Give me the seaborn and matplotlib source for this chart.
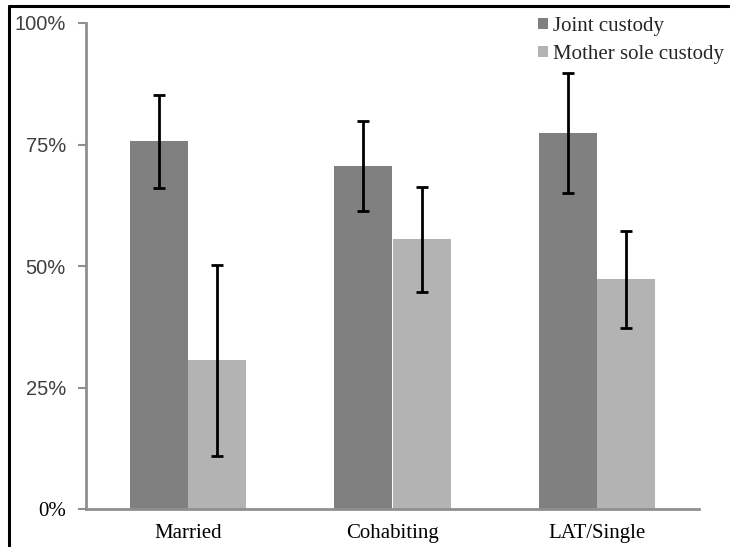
import matplotlib
matplotlib.use('Agg')
import numpy as np
import pandas as pd
import matplotlib.pyplot as plt
import seaborn as sns
from matplotlib.patches import Patch
from matplotlib.lines import Line2D

## data
categories = ['Married', 'Cohabiting', 'LAT/Single']
series = ['Joint custody', 'Mother sole custody']
joint = [75.8, 70.5, 77.4]
joint_lo = [66.0, 61.4, 65.0]
joint_hi = [85.2, 79.8, 89.8]
mother = [30.7, 55.5, 47.3]
mother_lo = [10.9, 44.7, 37.3]
mother_hi = [50.2, 66.3, 57.2]
yticks = [0, 25, 50, 75, 100]
ytick_labels = ['0%', '25%', '50%', '75%', '100%']

colors = ['#808080', '#b3b3b3']
axis_gray = '#8f8f8f'

df = pd.DataFrame({
    'category': categories * 2,
    'series': [series[0]] * 3 + [series[1]] * 3,
    'value': joint + mother,
})
lows = [joint_lo, mother_lo]
highs = [joint_hi, mother_hi]
values = [joint, mother]

sns.set_style('white')

fig = plt.figure(figsize=(7.3, 5.47), dpi=100)
ax = fig.add_axes([86 / 730, 1 - 509 / 547, (699 - 86) / 730, (509 - 23) / 547])

sns.barplot(data=df, x='category', y='value', hue='series', order=categories,
            hue_order=series, palette=colors, width=0.57, saturation=1,
            linewidth=0, legend=False, ax=ax)

## error bars drawn on the bar centres
bar_conts = list(ax.containers)
for i, cont in enumerate(bar_conts):
    xs = [p.get_x() + p.get_width() / 2 for p in cont.patches]
    v = np.array(values[i])
    err = [v - np.array(lows[i]), np.array(highs[i]) - v]
    ax.errorbar(xs, v, yerr=err, fmt='none', ecolor='black',
                elinewidth=2, capsize=4, capthick=2, zorder=5)

ax.set_xlim(-0.5, 2.5)
ax.set_ylim(0, 100)
ax.set(xlabel='', ylabel='')

ax.tick_params(axis='y', length=6, width=1.5, color=axis_gray, pad=8.5, left=True)
ax.tick_params(axis='x', length=0, pad=11)
ax.set_yticks(yticks, ytick_labels)
for t in ax.get_yticklabels():
    if t.get_text() == '0%':
        t.set_fontfamily('Liberation Serif')
        t.set_color('black')
        t.set_fontsize(15)
    else:
        t.set_fontfamily('Liberation Sans')
        t.set_color('#404040')
        t.set_fontsize(14.5)
for t in ax.get_xticklabels():
    t.set_fontfamily('Liberation Serif')
    t.set_fontsize(15)
    t.set_color('black')

sns.despine(ax=ax, top=True, right=True)
for s in ['left', 'bottom']:
    ax.spines[s].set_color(axis_gray)
    ax.spines[s].set_linewidth(2)

## legend
handles = [Patch(facecolor=c, edgecolor='none') for c in colors]
fig.legend(handles, series, loc='upper left',
           bbox_to_anchor=(538 / 730, 1 - 17 / 547), frameon=False,
           borderpad=0, borderaxespad=0, handlelength=0.48, handleheight=0.48,
           handletextpad=0.25, labelspacing=0.43,
           prop={'family': 'Liberation Serif', 'size': 15})

## black frame (left and top edges visible)
fig.add_artist(Line2D([9 / 730, 9 / 730], [0, 1 - 6 / 547], color='black',
                      lw=2.2, transform=fig.transFigure))
fig.add_artist(Line2D([9 / 730, 1], [1 - 6 / 547, 1 - 6 / 547], color='black',
                      lw=2.2, transform=fig.transFigure))

plt.savefig('out.png', dpi=100)
